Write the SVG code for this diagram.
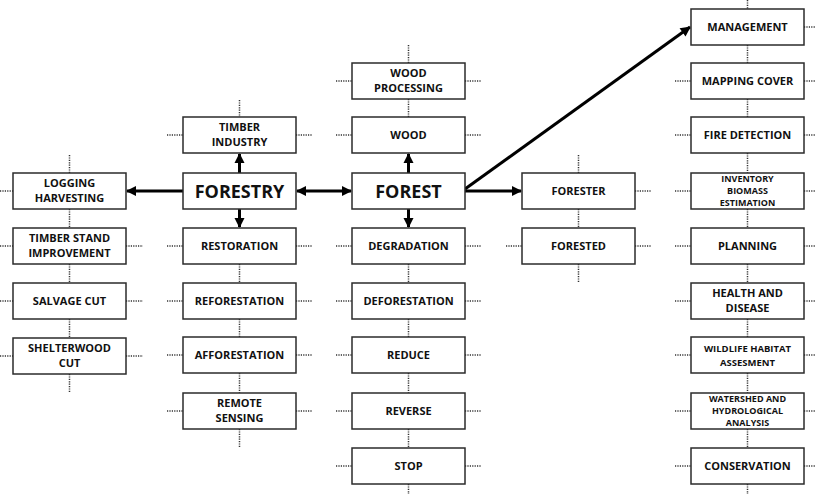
<svg xmlns="http://www.w3.org/2000/svg" width="815" height="494" viewBox="0 0 815 494">
<style>
.box{fill:#fff;stroke:#2b2b2b;stroke-width:1.5}
.dot{stroke:#333;stroke-width:1.5;stroke-dasharray:1.2 1.2;fill:none}
.arr{stroke:#000;stroke-width:3;fill:none}
text{font-family:"Open Sans",Lato,"Liberation Sans",sans-serif;font-weight:bold;text-anchor:middle;fill:#111;font-size:11px}
.big{font-size:18px}
.sm{font-size:9.5px}
.xs{font-size:9px}
</style>
<defs>
<marker id="ah" viewBox="0 0 10 10" refX="9" refY="5" markerWidth="3.6" markerHeight="3.4" orient="auto-start-reverse" markerUnits="strokeWidth">
<path d="M0,0 L10,5 L0,10 Z" fill="#000"/>
</marker>
</defs>
<g id="dotted">
<path class="dot" d="M69.5,155V173M69.5,209V228M69.5,264V283M69.5,319V338M69.5,374V392
M0,246H13M126,246H143M0,301H13M126,301H143M0,356H13M126,356H143M0,191H13
M239.5,100V117M167,135H183M296,135H312
M167,246H183M296,246H312M167,301H183M296,301H312M167,355H183M296,355H312M167,411H183M296,411H312
M239.5,264V283M239.5,319V337M239.5,373V393M239.5,429V447
M408.5,45V63M408.5,99V117M336,81H352M465,81H481M336,135H352M465,135H481
M336,246H352M465,246H481M336,301H352M465,301H481M336,355H352M465,355H481M336,411H352M465,411H481M336,466H352M465,466H481
M408.5,264V283M408.5,319V337M408.5,373V393M408.5,429V448M408.5,484V494
M578.5,155V173M578.5,209V228M578.5,264V283M635,191H651M506,246H522M635,246H651
M747.5,0V9M747.5,45V63M747.5,99V117M747.5,153V173M747.5,209V228M747.5,264V283M747.5,319V337M747.5,373V393M747.5,429V448M747.5,484V494
M804,27H815M675,81H691M804,81H815M675,135H691M804,135H815M675,191H691M804,191H815M675,246H691M804,246H815
M675,301H691M804,301H815M675,355H691M804,355H815M675,411H691M804,411H815M675,466H691M804,466H815"/>
</g>
<g id="connectors">
<line class="arr" x1="183" y1="191" x2="127" y2="191" marker-end="url(#ah)"/>
<line class="arr" x1="239.5" y1="173" x2="239.5" y2="154" marker-end="url(#ah)"/>
<line class="arr" x1="239.5" y1="209" x2="239.5" y2="227" marker-end="url(#ah)"/>
<line class="arr" x1="297" y1="191" x2="351" y2="191" marker-start="url(#ah)" marker-end="url(#ah)"/>
<line class="arr" x1="408.5" y1="173" x2="408.5" y2="154" marker-end="url(#ah)"/>
<line class="arr" x1="408.5" y1="209" x2="408.5" y2="227" marker-end="url(#ah)"/>
<line class="arr" x1="465" y1="191" x2="521" y2="191" marker-end="url(#ah)"/>
<line class="arr" x1="465" y1="189" x2="690" y2="27" marker-end="url(#ah)"/>
</g>
<g id="logging"><rect class="box" x="13" y="173" width="113" height="36"/><text x="69.5" y="187">LOGGING</text><text x="69.5" y="202">HARVESTING</text></g>
<g id="tsi"><rect class="box" x="13" y="228" width="113" height="36"/><text x="69.5" y="242">TIMBER STAND</text><text x="69.5" y="257">IMPROVEMENT</text></g>
<g id="salvage"><rect class="box" x="13" y="283" width="113" height="36"/><text x="69.5" y="305">SALVAGE CUT</text></g>
<g id="shelterwood"><rect class="box" x="13" y="338" width="113" height="36"/><text x="69.5" y="352">SHELTERWOOD</text><text x="69.5" y="367">CUT</text></g>
<g id="timber"><rect class="box" x="183" y="117" width="113" height="36"/><text x="239.5" y="131">TIMBER</text><text x="239.5" y="146">INDUSTRY</text></g>
<g id="forestry"><rect class="box" x="183" y="173" width="113" height="36"/><text class="big" x="239.5" y="198">FORESTRY</text></g>
<g id="restoration"><rect class="box" x="183" y="228" width="113" height="36"/><text x="239.5" y="250">RESTORATION</text></g>
<g id="reforestation"><rect class="box" x="183" y="283" width="113" height="36"/><text x="239.5" y="305">REFORESTATION</text></g>
<g id="afforestation"><rect class="box" x="183" y="337" width="113" height="36"/><text x="239.5" y="359">AFFORESTATION</text></g>
<g id="remote"><rect class="box" x="183" y="393" width="113" height="36"/><text x="239.5" y="407">REMOTE</text><text x="239.5" y="422">SENSING</text></g>
<g id="woodproc"><rect class="box" x="352" y="63" width="113" height="36"/><text x="408.5" y="77">WOOD</text><text x="408.5" y="92">PROCESSING</text></g>
<g id="wood"><rect class="box" x="352" y="117" width="113" height="36"/><text x="408.5" y="139">WOOD</text></g>
<g id="forest"><rect class="box" x="352" y="173" width="113" height="36"/><text class="big" x="408.5" y="198">FOREST</text></g>
<g id="degradation"><rect class="box" x="352" y="228" width="113" height="36"/><text x="408.5" y="250">DEGRADATION</text></g>
<g id="deforestation"><rect class="box" x="352" y="283" width="113" height="36"/><text x="408.5" y="305">DEFORESTATION</text></g>
<g id="reduce"><rect class="box" x="352" y="337" width="113" height="36"/><text x="408.5" y="359">REDUCE</text></g>
<g id="reverse"><rect class="box" x="352" y="393" width="113" height="36"/><text x="408.5" y="415">REVERSE</text></g>
<g id="stop"><rect class="box" x="352" y="448" width="113" height="36"/><text x="408.5" y="470">STOP</text></g>
<g id="forester"><rect class="box" x="522" y="173" width="113" height="36"/><text x="578.5" y="195">FORESTER</text></g>
<g id="forested"><rect class="box" x="522" y="228" width="113" height="36"/><text x="578.5" y="250">FORESTED</text></g>
<g id="management"><rect class="box" x="691" y="9" width="113" height="36"/><text x="747.5" y="31">MANAGEMENT</text></g>
<g id="mapping"><rect class="box" x="691" y="63" width="113" height="36"/><text x="747.5" y="85">MAPPING COVER</text></g>
<g id="fire"><rect class="box" x="691" y="117" width="113" height="36"/><text x="747.5" y="139">FIRE DETECTION</text></g>
<g id="inventory"><rect class="box" x="691" y="173" width="113" height="36"/><text class="xs" x="747.5" y="182">INVENTORY</text><text class="xs" x="747.5" y="194">BIOMASS</text><text class="xs" x="747.5" y="206">ESTIMATION</text></g>
<g id="planning"><rect class="box" x="691" y="228" width="113" height="36"/><text x="747.5" y="250">PLANNING</text></g>
<g id="health"><rect class="box" x="691" y="283" width="113" height="36"/><text x="747.5" y="297">HEALTH AND</text><text x="747.5" y="312">DISEASE</text></g>
<g id="wildlife"><rect class="box" x="691" y="337" width="113" height="36"/><text class="sm" x="747.5" y="352">WILDLIFE HABITAT</text><text class="sm" x="747.5" y="366">ASSESMENT</text></g>
<g id="watershed"><rect class="box" x="691" y="393" width="113" height="36"/><text class="xs" x="747.5" y="402">WATERSHED AND</text><text class="xs" x="747.5" y="414">HYDROLOGICAL</text><text class="xs" x="747.5" y="426">ANALYSIS</text></g>
<g id="conservation"><rect class="box" x="691" y="448" width="113" height="36"/><text x="747.5" y="470">CONSERVATION</text></g>
</svg>
